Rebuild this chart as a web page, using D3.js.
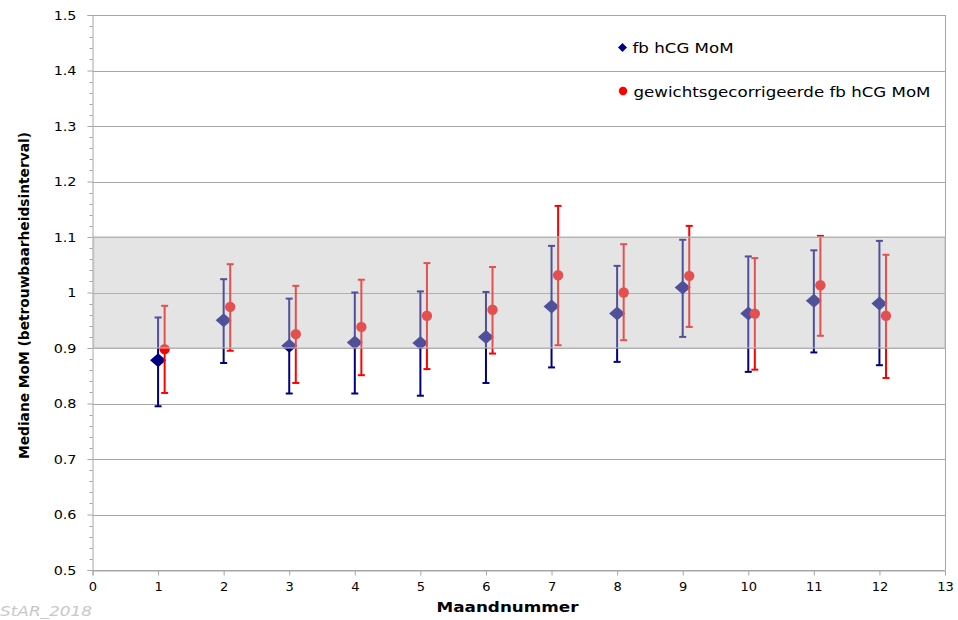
<!DOCTYPE html>
<html>
<head>
<meta charset="utf-8">
<script src="https://cdn.jsdelivr.net/npm/d3@7"></script>
<style>
  html, body { margin: 0; padding: 0; background: #fff; }
  svg { display: block; }
</style>
</head>
<body>
<svg id="chart" width="958" height="620"></svg>
<script>
// Maandnummers
const months = [1, 2, 3, 4, 5, 6, 7, 8, 9, 10, 11, 12];

// fb hCG MoM: mediaan en betrouwbaarheidsinterval
const fbMedian = [0.878, 0.950, 0.904, 0.910, 0.909, 0.920, 0.975, 0.962, 1.009, 0.962, 0.985, 0.980];
const fbLower  = [0.795, 0.873, 0.818, 0.818, 0.814, 0.837, 0.865, 0.875, 0.920, 0.857, 0.892, 0.869];
const fbUpper  = [0.955, 1.024, 0.989, 1.000, 1.002, 1.001, 1.084, 1.048, 1.095, 1.065, 1.076, 1.093];

// gewichtsgecorrigeerde fb hCG MoM
const wcMedian = [0.898, 0.974, 0.925, 0.938, 0.958, 0.969, 1.031, 1.000, 1.030, 0.962, 1.013, 0.958];
const wcLower  = [0.819, 0.895, 0.837, 0.851, 0.862, 0.890, 0.905, 0.914, 0.938, 0.861, 0.922, 0.846];
const wcUpper  = [0.976, 1.051, 1.012, 1.023, 1.053, 1.046, 1.156, 1.087, 1.120, 1.062, 1.102, 1.068];

// Streefgebied
const bandLow = 0.9, bandHigh = 1.1;

// As-instellingen
const xTicks = [0, 1, 2, 3, 4, 5, 6, 7, 8, 9, 10, 11, 12, 13];
const yTicks = [0.5, 0.6, 0.7, 0.8, 0.9, 1.0, 1.1, 1.2, 1.3, 1.4, 1.5];
const yTickLabels = ["0.5", "0.6", "0.7", "0.8", "0.9", "1", "1.1", "1.2", "1.3", "1.4", "1.5"];

const seriesNames = ["fb hCG MoM", "gewichtsgecorrigeerde fb hCG MoM"];

const svg = d3.select("#chart");
const plotLeft = 92.5, plotRight = 945, plotTop = 15, plotBottom = 570;

const x = d3.scaleLinear().domain([0, 13]).range([plotLeft, plotRight]);
const y = d3.scaleLinear().domain([0.5, 1.5]).range([plotBottom, plotTop]);

const gridColor = "#a6a6a6";
const navy = "#000080";
const red = "#ff0000";
const sans = "DejaVu Sans, Verdana, sans-serif";

// Tekst horizontaal oprekken (brede letters)
function widen(sel, factor) {
  sel.each(function () {
    const w = this.getComputedTextLength();
    d3.select(this).attr("textLength", w * factor).attr("lengthAdjust", "spacingAndGlyphs");
  });
}

// Horizontale rasterlijnen
svg.append("g")
  .selectAll("line")
  .data(yTicks)
  .join("line")
  .attr("x1", plotLeft).attr("x2", plotRight)
  .attr("y1", d => Math.round(y(d)) + 0.5).attr("y2", d => Math.round(y(d)) + 0.5)
  .attr("stroke", gridColor).attr("stroke-width", 1);

// Rechterrand van het plotgebied
svg.append("line")
  .attr("x1", plotRight + 0.5).attr("x2", plotRight + 0.5)
  .attr("y1", plotTop).attr("y2", plotBottom)
  .attr("stroke", gridColor);

// Y-as met kleine streepjes
const yAxis = d3.axisLeft(y)
  .tickValues(yTicks)
  .tickFormat((d, i) => yTickLabels[i])
  .tickSize(5)
  .tickPadding(11);
const gy = svg.append("g").attr("transform", `translate(${plotLeft},0)`).call(yAxis);
gy.select(".domain").attr("stroke", gridColor);
gy.selectAll(".tick line").attr("stroke", gridColor);
gy.selectAll(".tick text")
  .attr("font-family", sans)
  .attr("font-size", 12.5)
  .attr("fill", "#000")
  .call(widen, 1.15);

const minorTicks = d3.range(0, 51).map(i => 0.5 + i * 0.02)
  .filter((d, i) => i % 5 !== 0);
svg.append("g")
  .selectAll("line")
  .data(minorTicks)
  .join("line")
  .attr("x1", plotLeft - 3).attr("x2", plotLeft)
  .attr("y1", d => Math.round(y(d)) + 0.5).attr("y2", d => Math.round(y(d)) + 0.5)
  .attr("stroke", gridColor);

// X-as
const xAxis = d3.axisBottom(x)
  .tickValues(xTicks)
  .tickFormat(d3.format("d"))
  .tickSize(5)
  .tickPadding(6);
const gx = svg.append("g").attr("transform", `translate(0,${plotBottom + 0.5})`).call(xAxis);
gx.select(".domain").attr("stroke", gridColor);
gx.selectAll(".tick line").attr("stroke", gridColor);
gx.selectAll(".tick text")
  .attr("font-family", sans)
  .attr("font-size", 13)
  .attr("fill", "#000");

// Foutbalken en markers
function errorBars(g, xs, lo, hi, color, capHalf) {
  const grp = g.append("g");
  months.forEach((m, i) => {
    const cx = x(xs(m));
    grp.append("line")
      .attr("x1", cx).attr("x2", cx)
      .attr("y1", y(lo[i])).attr("y2", y(hi[i]))
      .attr("stroke", color).attr("stroke-width", 2);
    [lo[i], hi[i]].forEach(v => {
      grp.append("line")
        .attr("x1", cx - capHalf).attr("x2", cx + capHalf)
        .attr("y1", y(v)).attr("y2", y(v))
        .attr("stroke", color).attr("stroke-width", 2);
    });
  });
}

const plot = svg.append("g");
const fbX = m => m;
const wcX = m => m + 0.1;

errorBars(plot, fbX, fbLower, fbUpper, navy, 3.5);
plot.append("g")
  .selectAll("path")
  .data(months)
  .join("path")
  .attr("transform", (d, i) => `translate(${x(fbX(d))},${y(fbMedian[i])})`)
  .attr("d", "M0,-7 L8,0 L0,7 L-8,0 Z")
  .attr("fill", navy);

errorBars(plot, wcX, wcLower, wcUpper, red, 3.5);
plot.append("g")
  .selectAll("circle")
  .data(months)
  .join("circle")
  .attr("cx", d => x(wcX(d)))
  .attr("cy", (d, i) => y(wcMedian[i]))
  .attr("r", 5.2)
  .attr("fill", red);

// Halfdoorzichtige band 0.9 - 1.1 over de reeksen heen
svg.append("rect")
  .attr("x", plotLeft + 1)
  .attr("y", y(bandHigh))
  .attr("width", plotRight - plotLeft - 1)
  .attr("height", y(bandLow) - y(bandHigh))
  .attr("fill", "rgb(190,190,190)")
  .attr("fill-opacity", 0.42)
  .attr("stroke", "rgb(185,185,185)")
  .attr("stroke-opacity", 0.55)
  .attr("stroke-width", 2);

// Legenda
const legend = svg.append("g")
  .attr("font-family", sans)
  .attr("font-size", 14)
  .attr("fill", "#000");
legend.append("path")
  .attr("transform", "translate(622.5,47.5)")
  .attr("d", "M0,-4.5 L4.5,0 L0,4.5 L-4.5,0 Z")
  .attr("fill", navy);
legend.append("text").attr("x", 632.5).attr("y", 53)
  .attr("textLength", 101).attr("lengthAdjust", "spacingAndGlyphs")
  .text(seriesNames[0]);
legend.append("circle").attr("cx", 623).attr("cy", 91).attr("r", 4.2).attr("fill", red);
legend.append("text").attr("x", 633.5).attr("y", 97)
  .attr("textLength", 297).attr("lengthAdjust", "spacingAndGlyphs")
  .text(seriesNames[1]);

// Astitels
svg.append("text")
  .attr("x", 507.5).attr("y", 612)
  .attr("text-anchor", "middle")
  .attr("font-family", sans)
  .attr("font-weight", "bold")
  .attr("font-size", 14)
  .attr("fill", "#000")
  .attr("textLength", 142).attr("lengthAdjust", "spacingAndGlyphs")
  .text("Maandnummer");

svg.append("text")
  .attr("transform", "translate(28.5,295.5) rotate(-90)")
  .attr("text-anchor", "middle")
  .attr("font-family", "DejaVu Sans Condensed, DejaVu Sans, sans-serif")
  .attr("font-weight", "bold")
  .attr("font-size", 14.5)
  .attr("fill", "#000")
  .attr("textLength", 327).attr("lengthAdjust", "spacingAndGlyphs")
  .text("Mediane MoM (betrouwbaarheidsinterval)");

// Watermerk
svg.append("text")
  .attr("x", 0).attr("y", 616)
  .attr("font-family", sans)
  .attr("font-style", "italic")
  .attr("font-size", 14)
  .attr("fill", "#c8c8c8")
  .attr("textLength", 92).attr("lengthAdjust", "spacingAndGlyphs")
  .text("StAR_2018");
</script>
</body>
</html>
